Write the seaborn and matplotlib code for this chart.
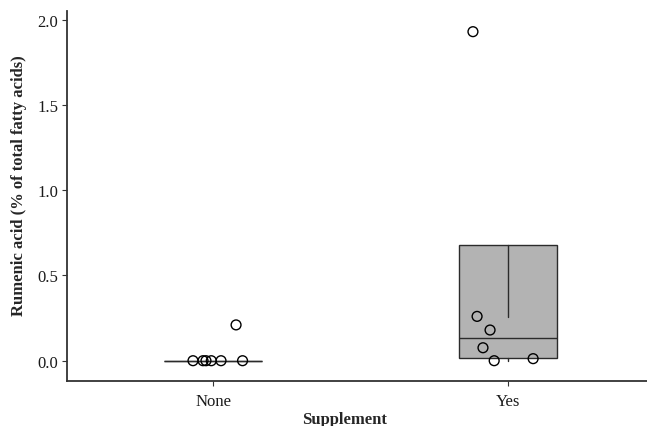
import matplotlib
matplotlib.use("Agg")
import matplotlib.pyplot as plt
import seaborn as sns
import pandas as pd

# ---- data ----
categories = ["None", "Yes"]
none_values = [0.0, 0.0, 0.0, 0.0, 0.0, 0.0, 0.21]
none_jitter = [-0.068, -0.034, -0.024, -0.006, 0.027, 0.10, 0.078]
yes_values = [1.93, 0.26, 0.18, 0.076, 0.0, 0.012]
yes_jitter = [-0.119, -0.105, -0.061, -0.085, -0.047, 0.085]

# box summary (as drawn in the reference)
box_q1 = [0.0, 0.018]
box_med = [0.0, 0.135]
box_q3 = [0.0, 0.678]
box_whislo = [0.0, 0.0]
box_whishi = [0.0, 0.257]

yticks = [0.0, 0.5, 1.0, 1.5, 2.0]
ytick_labels = ["0.0", "0.5", "1.0", "1.5", "2.0"]

sns.set_theme(style="ticks")
plt.rcParams["font.family"] = ["Liberation Serif", "DejaVu Serif"]

fig = plt.figure(figsize=(6.47, 4.27), dpi=100)
ax = fig.add_axes([0.1036, 0.1054, 0.8964, 0.8656])

stats = []
for i, c in enumerate(categories):
    stats.append(dict(label=c, q1=box_q1[i], med=box_med[i], q3=box_q3[i],
                      whislo=box_whislo[i], whishi=box_whishi[i], fliers=[]))
ax.bxp(stats, positions=[0, 1], widths=0.335, showcaps=False, showfliers=False,
       patch_artist=True,
       boxprops=dict(facecolor="#b3b3b3", edgecolor="#2b2b2b", linewidth=1.0),
       medianprops=dict(color="#2b2b2b", linewidth=1.0),
       whiskerprops=dict(color="#2b2b2b", linewidth=1.0))

rows = []
for v, j in zip(none_values, none_jitter):
    rows.append(dict(Supplement="None", x=0 + j, y=v))
for v, j in zip(yes_values, yes_jitter):
    rows.append(dict(Supplement="Yes", x=1 + j, y=v))
df = pd.DataFrame(rows)
sns.scatterplot(data=df, x="x", y="y", ax=ax, s=50, facecolor="none",
                edgecolor="black", linewidth=1.0, zorder=5)

ax.set_xlim(-0.495, 1.471)
ax.set_ylim(-0.119, 2.049)
ax.set_xticks([0, 1])
ax.set_xticklabels(categories)
ax.set_yticks(yticks)
ax.set_yticklabels(ytick_labels)
ax.tick_params(axis="both", labelsize=12, length=3.5, width=0.8,
               color="#333333", labelcolor="#1a1a1a")
ax.tick_params(axis="x", pad=5)
ax.tick_params(axis="y", pad=3)
ax.set_xlabel("Supplement", fontsize=12, fontweight="bold")
ax.set_ylabel("Rumenic acid (% of total fatty acids)", fontsize=12,
              fontweight="bold")
ax.xaxis.set_label_coords(0.479, -0.080)
ax.yaxis.set_label_coords(-0.069, 0.532)
for s in ["top", "right"]:
    ax.spines[s].set_visible(False)
for s in ["left", "bottom"]:
    ax.spines[s].set_color("#333333")
    ax.spines[s].set_linewidth(1.3)

fig.savefig("out.png", dpi=100)
